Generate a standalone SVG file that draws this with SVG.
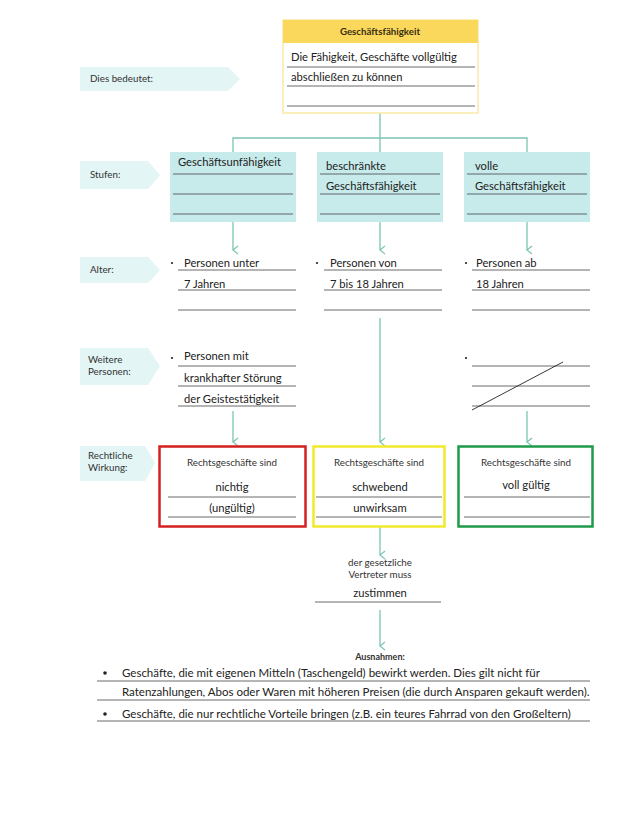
<svg xmlns="http://www.w3.org/2000/svg" width="640" height="814" viewBox="0 0 640 814">
<defs>
<marker id="ah" viewBox="0 0 10 10" refX="5" refY="9" markerWidth="10" markerHeight="10" markerUnits="userSpaceOnUse" orient="auto-start-reverse">
<path d="M1,4 L5,9 L9,4" fill="none" stroke="#7cc4b4" stroke-width="1.2"/>
</marker>
<style>
text{font-family:Lato,"Open Sans","Liberation Sans",sans-serif;fill:#222}
.t{font-size:11.2px}
.b{font-size:11.5px}
.s{font-size:9.8px;fill:#333}
.h{font-size:9.7px;font-weight:bold;fill:#3a2e10}
.c{text-anchor:middle}
.ln{stroke:#444;stroke-width:0.8}
.lab{fill:#e3f5f5}
.stf{fill:#c7ebeb}
.con{stroke:#7cc4b4;stroke-width:1.3;fill:none}
</style>
</defs>
<rect width="640" height="814" fill="#fff"/>

<g id="labels">
<polygon class="lab" points="80,67 228,67 240,79 228,91 80,91"/>
<text class="s" x="90" y="82">Dies bedeutet:</text>
<polygon class="lab" points="80,161 148,161 160,175 148,189 80,189"/>
<text class="s" x="90" y="178">Stufen:</text>
<polygon class="lab" points="80,257 148,257 160,270 148,283 80,283"/>
<text class="s" x="90" y="273">Alter:</text>
<polygon class="lab" points="80,348 148,348 160,366 148,385 80,385"/>
<text class="s" x="88" y="363">Weitere</text>
<text class="s" x="88" y="375">Personen:</text>
<polygon class="lab" points="80,446 145,446 155,463 145,481 80,481"/>
<text class="s" x="88" y="459">Rechtliche</text>
<text class="s" x="88" y="471">Wirkung:</text>
</g>

<g id="connectors">
<line class="con" x1="380" y1="113" x2="380" y2="138"/>
<polyline class="con" points="233,152 233,138 527,138 527,152"/>
<line class="con" x1="380" y1="138" x2="380" y2="152"/>
<line class="con" x1="233" y1="222" x2="233" y2="250" marker-end="url(#ah)"/>
<line class="con" x1="380" y1="222" x2="380" y2="250" marker-end="url(#ah)"/>
<line class="con" x1="527" y1="222" x2="527" y2="250" marker-end="url(#ah)"/>
<line class="con" x1="380" y1="318" x2="380" y2="442" marker-end="url(#ah)"/>
<line class="con" x1="233" y1="411" x2="233" y2="442" marker-end="url(#ah)"/>
<line class="con" x1="527" y1="411" x2="527" y2="442" marker-end="url(#ah)"/>
<line class="con" x1="380" y1="521" x2="380" y2="555" marker-end="url(#ah)"/>
<line class="con" x1="380" y1="610" x2="380" y2="646" marker-end="url(#ah)"/>
</g>

<g id="node-geschaeftsfaehigkeit">
<rect x="283" y="20" width="195" height="93" fill="#fff" stroke="#fbeaa8" stroke-width="1.5"/>
<rect x="283" y="20" width="195" height="23" fill="#f9d85c"/>
<text class="h c" x="380" y="35">Geschäftsfähigkeit</text>
<text class="t" x="291" y="61">Die Fähigkeit, Geschäfte vollgültig</text>
<line class="ln" x1="287" y1="67" x2="475" y2="67"/>
<text class="t" x="291" y="81">abschließen zu können</text>
<line class="ln" x1="287" y1="86" x2="475" y2="86"/>
<line class="ln" x1="287" y1="106" x2="475" y2="106" stroke="#888"/>
</g>

<g id="node-stufe1">
<rect class="stf" x="170" y="152" width="126" height="70"/>
<text class="t" x="178" y="166">Geschäftsunfähigkeit</text>
<line class="ln" x1="173" y1="174" x2="293" y2="174"/>
<line class="ln" x1="173" y1="194" x2="293" y2="194" stroke="#777"/>
<line class="ln" x1="173" y1="214" x2="293" y2="214" stroke="#777"/>
</g>
<g id="node-stufe2">
<rect class="stf" x="317" y="152" width="126" height="70"/>
<text class="t" x="326" y="170">beschränkte</text>
<line class="ln" x1="320" y1="174" x2="440" y2="174"/>
<text class="t" x="326" y="190">Geschäftsfähigkeit</text>
<line class="ln" x1="320" y1="194" x2="440" y2="194" stroke="#777"/>
<line class="ln" x1="320" y1="214" x2="440" y2="214" stroke="#777"/>
</g>
<g id="node-stufe3">
<rect class="stf" x="464" y="152" width="126" height="70"/>
<text class="t" x="475" y="170">volle</text>
<line class="ln" x1="467" y1="174" x2="587" y2="174"/>
<text class="t" x="475" y="190">Geschäftsfähigkeit</text>
<line class="ln" x1="467" y1="194" x2="587" y2="194" stroke="#777"/>
<line class="ln" x1="467" y1="214" x2="587" y2="214" stroke="#777"/>
</g>

<g id="node-alter1">
<circle cx="172" cy="263" r="1.1" fill="#222"/>
<text class="t" x="184" y="267">Personen unter</text>
<line class="ln" x1="178" y1="270" x2="296" y2="270" stroke="#777"/>
<text class="t" x="184" y="288">7 Jahren</text>
<line class="ln" x1="178" y1="290" x2="296" y2="290"/>
<line class="ln" x1="178" y1="310" x2="296" y2="310" stroke="#888"/>
</g>
<g id="node-alter2">
<circle cx="317" cy="263" r="1.1" fill="#222"/>
<text class="t" x="330" y="267">Personen von</text>
<line class="ln" x1="324" y1="270" x2="442" y2="270" stroke="#777"/>
<text class="t" x="330" y="288">7 bis 18 Jahren</text>
<line class="ln" x1="324" y1="290" x2="442" y2="290"/>
<line class="ln" x1="324" y1="310" x2="442" y2="310" stroke="#888"/>
</g>
<g id="node-alter3">
<circle cx="466" cy="263" r="1.1" fill="#222"/>
<text class="t" x="476" y="267">Personen ab</text>
<line class="ln" x1="472" y1="270" x2="590" y2="270" stroke="#777"/>
<text class="t" x="476" y="288">18 Jahren</text>
<line class="ln" x1="472" y1="290" x2="590" y2="290"/>
<line class="ln" x1="472" y1="310" x2="590" y2="310" stroke="#888"/>
</g>

<g id="node-weitere1">
<circle cx="172" cy="358" r="1.1" fill="#222"/>
<text class="t" x="184" y="360">Personen mit</text>
<line class="ln" x1="178" y1="366" x2="296" y2="366" stroke="#777"/>
<text class="t" x="184" y="382">krankhafter Störung</text>
<line class="ln" x1="178" y1="386" x2="296" y2="386" stroke="#777"/>
<text class="t" x="184" y="403">der Geistestätigkeit</text>
<line class="ln" x1="178" y1="406" x2="296" y2="406" stroke="#777"/>
</g>
<g id="node-weitere3">
<circle cx="466" cy="358" r="1.1" fill="#222"/>
<line class="ln" x1="472" y1="366" x2="590" y2="366" stroke="#777"/>
<line class="ln" x1="472" y1="386" x2="590" y2="386" stroke="#777"/>
<line class="ln" x1="472" y1="406" x2="590" y2="406" stroke="#777"/>
<line x1="472" y1="410" x2="563" y2="362" stroke="#222" stroke-width="0.9"/>
</g>

<g id="node-nichtig">
<rect x="159.5" y="446.5" width="146" height="80" fill="#fff" stroke="#d42020" stroke-width="2.5"/>
<text class="s c" x="232" y="466">Rechtsgeschäfte sind</text>
<text class="t c" x="232" y="491">nichtig</text>
<line class="ln" x1="168" y1="497" x2="296" y2="497" stroke="#777"/>
<text class="t c" x="232" y="512">(ungültig)</text>
<line class="ln" x1="168" y1="517" x2="296" y2="517" stroke="#777"/>
</g>
<g id="node-schwebend">
<rect x="313.5" y="446.5" width="131" height="80" fill="#fff" stroke="#f0ea2a" stroke-width="2.5"/>
<text class="s c" x="379" y="466">Rechtsgeschäfte sind</text>
<text class="t c" x="380" y="491">schwebend</text>
<line class="ln" x1="316" y1="497" x2="442" y2="497" stroke="#777"/>
<text class="t c" x="380" y="512">unwirksam</text>
<line class="ln" x1="316" y1="517" x2="442" y2="517" stroke="#777"/>
</g>
<g id="node-vollgueltig">
<rect x="458.5" y="446.5" width="134" height="80" fill="#fff" stroke="#1f9a4a" stroke-width="2.5"/>
<text class="s c" x="526" y="466">Rechtsgeschäfte sind</text>
<text class="t c" x="526" y="489">voll gültig</text>
<line class="ln" x1="464" y1="497" x2="590" y2="497" stroke="#777"/>
<line class="ln" x1="464" y1="517" x2="590" y2="517" stroke="#777"/>
</g>

<g id="node-zustimmen">
<text class="s c" x="380" y="566">der gesetzliche</text>
<text class="s c" x="380" y="578">Vertreter muss</text>
<text class="t c" x="380" y="597">zustimmen</text>
<line class="ln" x1="315" y1="602" x2="441" y2="602"/>
</g>

<g id="node-ausnahmen">
<text class="s c" x="380" y="660" style="font-weight:bold;font-size:9px">Ausnahmen:</text>
<circle cx="105" cy="673" r="1.8" fill="#222"/>
<text class="b" x="122" y="677">Geschäfte, die mit eigenen Mitteln (Taschengeld) bewirkt werden. Dies gilt nicht für</text>
<line class="ln" x1="97" y1="681" x2="590" y2="681" stroke="#666"/>
<text class="b" x="122" y="696">Ratenzahlungen, Abos oder Waren mit höheren Preisen (die durch Ansparen gekauft werden).</text>
<line class="ln" x1="97" y1="700" x2="590" y2="700" stroke="#666"/>
<circle cx="105" cy="714" r="1.8" fill="#222"/>
<text class="b" x="122" y="718">Geschäfte, die nur rechtliche Vorteile bringen (z.B. ein teures Fahrrad von den Großeltern)</text>
<line class="ln" x1="97" y1="721" x2="590" y2="721" stroke="#666"/>
</g>
</svg>
